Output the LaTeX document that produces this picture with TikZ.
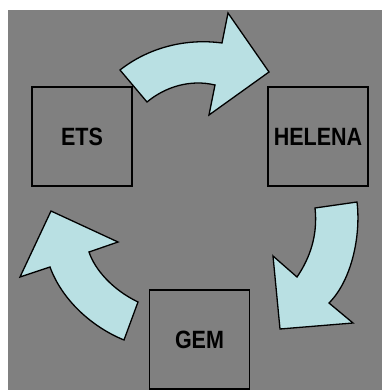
\documentclass[tikz,border=0pt]{standalone}
\usepackage{graphicx}
\usepackage{fontspec}
\setmainfont{Liberation Sans}
\definecolor{panelgray}{HTML}{808080}
\definecolor{arrowfill}{HTML}{B9E0E3}
\newcommand{\labeltext}[1]{\scalebox{0.86}[1]{\bfseries #1}}
\begin{document}
\begin{tikzpicture}[x=1pt,y=-1pt,
  stage/.style={draw=black,line width=1.3pt,minimum width=100pt,minimum height=99pt,
    inner sep=0pt,font=\fontsize{25}{25}\selectfont},
  bentarrow/.style={draw=black,fill=arrowfill,line width=1.3pt,line join=miter}]
  % page and grey panel
  \useasboundingbox (0,0) rectangle (382,390);
  \fill[white] (0,0) rectangle (382,390);
  \fill[panelgray] (8,10) rectangle (382,390);

  % the three stages
  \node[stage] (ets) at (82,136.5) {\labeltext{ETS}};
  \node[stage] (helena) at (318,136.5) {\labeltext{HELENA}};
  \node[stage] (gem) at (199.5,339.5) {\labeltext{GEM}};

  % ETS -> HELENA
  \draw[bentarrow] (120,70) .. controls (148,48) and (185,38) .. (222,43)
    -- (228,13) -- (269,72) -- (209,115) -- (215,85)
    .. controls (190,79) and (165,87) .. (147,102) -- cycle;

  % HELENA -> GEM
  \draw[bentarrow] (357,202) .. controls (361,235) and (352,280) .. (329,303)
    -- (353,323) -- (280,329) -- (273,256) -- (297,277)
    .. controls (310,258) and (318,235) .. (315,208) -- cycle;

  % GEM -> ETS
  \draw[bentarrow] (124,340) .. controls (92,327) and (62,300) .. (50,267)
    -- (20,277) -- (51,211) -- (118,242) -- (89,252)
    .. controls (95,270) and (113,290) .. (138,302) -- cycle;
\end{tikzpicture}
\end{document}
